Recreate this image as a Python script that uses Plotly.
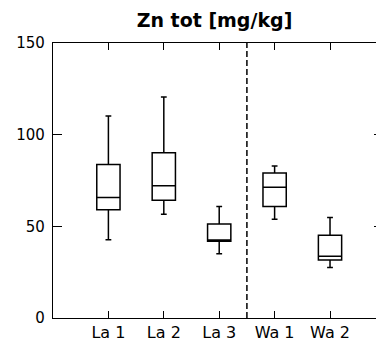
import plotly.graph_objects as go

categories = ["La 1", "La 2", "La 3", "Wa 1", "Wa 2"]
positions = [1, 2, 3, 4, 5]
lower = [42.7, 56.6, 35.1, 53.8, 27.5]
q1 = [59.1, 64.2, 41.8, 60.8, 31.7]
median = [65.7, 72.2, 42.6, 71.3, 33.7]
q3 = [83.7, 90.2, 51.3, 79.1, 45.1]
upper = [110.2, 120.5, 60.8, 82.9, 54.8]
y_ticks = [0, 50, 100, 150]
divider = 3.5

FONT = "DejaVu Sans"

fig = go.Figure()
fig.add_trace(go.Box(
    x=positions, q1=q1, median=median, q3=q3,
    lowerfence=lower, upperfence=upper,
    width=0.42, whiskerwidth=0.25,
    fillcolor="white", line=dict(color="black", width=1.5),
    boxpoints=False, hoverinfo="skip", showlegend=False,
))
# invisible trace to host the right-side tick axis
fig.add_trace(go.Scatter(x=[positions[0]], y=[0], yaxis="y2", mode="markers",
                         marker=dict(opacity=0), showlegend=False, hoverinfo="skip"))

fig.add_vline(x=divider, line=dict(color="black", width=1.5, dash="6px,3px"))

fig.update_layout(
    width=376, height=345,
    margin=dict(l=53, r=0, t=43, b=27),
    paper_bgcolor="white", plot_bgcolor="white",
    font=dict(family=FONT, color="black", size=15),
    title=dict(text="<b>Zn tot [mg/kg]</b>", x=0.5, xref="paper", xanchor="center",
               y=1 - 20 / 345, yref="container", yanchor="middle",
               font=dict(family=FONT, size=19, color="black")),
    xaxis=dict(range=[0, 5.83], tickvals=positions, ticktext=categories,
               ticks="inside", ticklen=7, tickwidth=1.2, tickcolor="black",
               showline=True, linecolor="black", linewidth=1.3, mirror="ticks",
               showgrid=False, zeroline=False, tickfont=dict(size=16)),
    yaxis=dict(range=[0, 150], tickvals=y_ticks, ticklabelstandoff=4,
               ticks="inside", ticklen=9, tickwidth=1.2, tickcolor="black",
               showline=True, linecolor="black", linewidth=1.3, mirror=False,
               showgrid=False, zeroline=False, tickfont=dict(size=15)),
    yaxis2=dict(range=[0, 150], tickvals=y_ticks, overlaying="y", side="right",
                anchor="free", position=1, ticks="inside", ticklen=2, tickwidth=1.2,
                tickcolor="black", showticklabels=False, showline=False,
                showgrid=False, zeroline=False),
)

fig.write_html("out.html")
